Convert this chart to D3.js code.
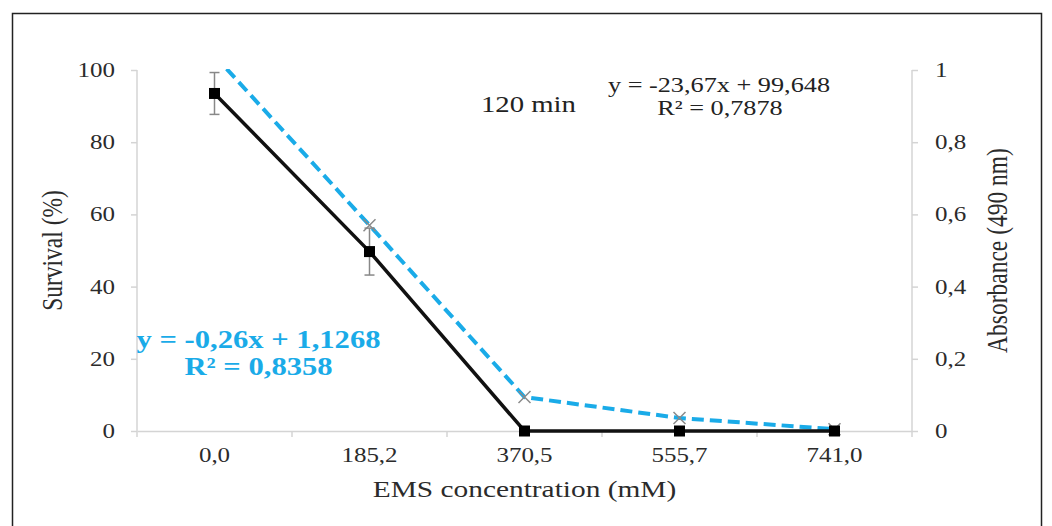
<!DOCTYPE html>
<html>
<head>
<meta charset="utf-8">
<script src="https://cdn.jsdelivr.net/npm/d3@7"></script>
<style>
  html, body { margin: 0; padding: 0; background: #fff; }
  svg { display: block; }
  text { font-family: "Liberation Serif", "Times New Roman", serif; }
</style>
</head>
<body>
<svg id="chart" width="1052" height="526"></svg>
<script>
// EMS dose categories (mM)
const categories = ["0,0", "185,2", "370,5", "555,7", "741,0"];
// Survival (%) with standard deviation
const survival = [93.5, 49.7, 0, 0, 0];
const survivalErr = [5.8, 6.5, 0, 0, 0];
// Absorbance at 490 nm
const absorbance = [1.04, 0.57, 0.094, 0.036, 0.005];
// Axis ticks
const leftTicks = [0, 20, 40, 60, 80, 100];
const rightTicks = [0, 0.2, 0.4, 0.6, 0.8, 1];

const svg = d3.select("#chart");
const W = 1052, H = 526;
const m = { left: 137, right: 140, top: 70, bottom: 95 };
const x0 = m.left, x1 = W - m.right, y0 = H - m.bottom, y1 = m.top;
const SX = 1.25;           // wide lettering
const ink = "#2b2b2b";
const blue = "#1aabe8";

// outer frame
svg.append("rect").attr("x", 12.5).attr("y", 13.5).attr("width", 1029).attr("height", 530)
  .attr("fill", "none").attr("stroke", "#222").attr("stroke-width", 1.5);

const x = d3.scaleBand().domain(categories).range([x0, x1]);
const yL = d3.scaleLinear().domain([0, 100]).range([y0, y1]);
const yR = d3.scaleLinear().domain([0, 1]).range([y0, y1]);
const cx = d => x(d) + x.bandwidth() / 2;

// horizontally widened text
function label(px, py, str, size, anchor, color) {
  return svg.append("text")
    .attr("transform", `translate(${px},${py}) scale(${SX},1)`)
    .attr("text-anchor", anchor).attr("font-size", size).attr("fill", color).text(str);
}
// rotated title, widened across the page
function vlabel(px, py, str, size) {
  return svg.append("text")
    .attr("transform", `translate(${px},${py}) rotate(-90) scale(1,${SX})`)
    .attr("text-anchor", "middle").attr("font-size", size).attr("fill", ink).text(str);
}

const axisColor = "#d4d4d4";

// axes (lines only; labels drawn widened below)
const gL = svg.append("g").attr("transform", `translate(${x0},0)`)
  .call(d3.axisLeft(yL).tickValues(leftTicks).tickSize(6).tickFormat(""));
const gR = svg.append("g").attr("transform", `translate(${x1},0)`)
  .call(d3.axisRight(yR).tickValues(rightTicks).tickSize(6).tickFormat(""));
const gB = svg.append("g").attr("transform", `translate(0,${y0})`)
  .call(d3.axisBottom(x).tickSize(0).tickFormat(""));
const bounds = categories.map(c => x(c)).concat([x1]);
gB.selectAll(".bound").data(bounds).enter().append("line")
  .attr("x1", d => d).attr("x2", d => d).attr("y1", 0).attr("y2", 6)
  .attr("stroke", axisColor).attr("stroke-width", 1.5);
[gL, gR, gB].forEach(g => {
  g.select(".domain").attr("stroke", axisColor).attr("stroke-width", 1.5);
  g.selectAll(".tick line").attr("stroke", axisColor).attr("stroke-width", 1.5);
});
gL.select(".domain").attr("d", `M0,${y0}V${y1}`);
gR.select(".domain").attr("d", `M0,${y0}V${y1}`);

// tick labels
const fmtR = d => (d === 0 || d === 1) ? String(d) : String(d).replace(".", ",");
leftTicks.forEach(t => label(x0 - 22, yL(t) + 7, String(t), 20, "end", ink));
rightTicks.forEach(t => label(x1 + 23, yR(t) + 7, fmtR(t), 20, "start", ink));
categories.forEach(c => label(cx(c), 462, c, 20, "middle", ink));

// axis titles
label(cx(categories[2]), 497, "EMS concentration (mM)", 23.5, "middle", ink);
vlabel(62, (y0 + y1) / 2, "Survival (%)", 23.5);
vlabel(1007, (y0 + y1) / 2, "Absorbance (490 nm)", 23.5);

// clip to plot area
svg.append("clipPath").attr("id", "plot").append("rect")
  .attr("x", x0).attr("y", y1 - 1).attr("width", x1 - x0).attr("height", y0 - y1 + 8);
const plot = svg.append("g").attr("clip-path", "url(#plot)");

// absorbance dashed line
const absLine = d3.line().x((d, i) => cx(categories[i])).y(d => yR(d));
plot.append("path").datum(absorbance).attr("d", absLine)
  .attr("fill", "none").attr("stroke", blue).attr("stroke-width", 4)
  .attr("stroke-dasharray", "12,6");
// x markers
const xs = 6;
plot.selectAll(".xm").data(absorbance).enter().append("path")
  .attr("d", (d, i) => {
    const px = cx(categories[i]), py = yR(d);
    return `M${px - xs},${py - xs}L${px + xs},${py + xs}M${px - xs},${py + xs}L${px + xs},${py - xs}`;
  })
  .attr("stroke", "#8a8a8a").attr("stroke-width", 1.5).attr("fill", "none");

// survival error bars
const errG = svg.append("g").attr("stroke", "#888").attr("stroke-width", 1.5);
survival.forEach((v, i) => {
  if (!survivalErr[i]) return;
  const px = cx(categories[i]);
  const top = yL(v + survivalErr[i]), bot = yL(v - survivalErr[i]);
  errG.append("line").attr("x1", px).attr("x2", px).attr("y1", top).attr("y2", bot);
  errG.append("line").attr("x1", px - 5).attr("x2", px + 5).attr("y1", top).attr("y2", top);
  errG.append("line").attr("x1", px - 5).attr("x2", px + 5).attr("y1", bot).attr("y2", bot);
});

// survival line
const survLine = d3.line().x((d, i) => cx(categories[i])).y(d => yL(d));
svg.append("path").datum(survival).attr("d", survLine)
  .attr("fill", "none").attr("stroke", "#111").attr("stroke-width", 3.5);
svg.selectAll(".sq").data(survival).enter().append("rect")
  .attr("x", (d, i) => cx(categories[i]) - 5.5).attr("y", d => yL(d) - 5.5)
  .attr("width", 11).attr("height", 11).attr("fill", "#000");

// annotations
label(481, 112, "120 min", 23, "start", "#222");
label(719, 92, "y = -23,67x + 99,648", 21, "middle", "#222");
label(720, 115, "R² = 0,7878", 21, "middle", "#222");
label(258.5, 348, "y = -0,26x + 1,1268", 24.5, "middle", blue).attr("font-weight", "bold");
label(258.5, 375, "R² = 0,8358", 24.5, "middle", blue).attr("font-weight", "bold");
</script>
</body>
</html>
